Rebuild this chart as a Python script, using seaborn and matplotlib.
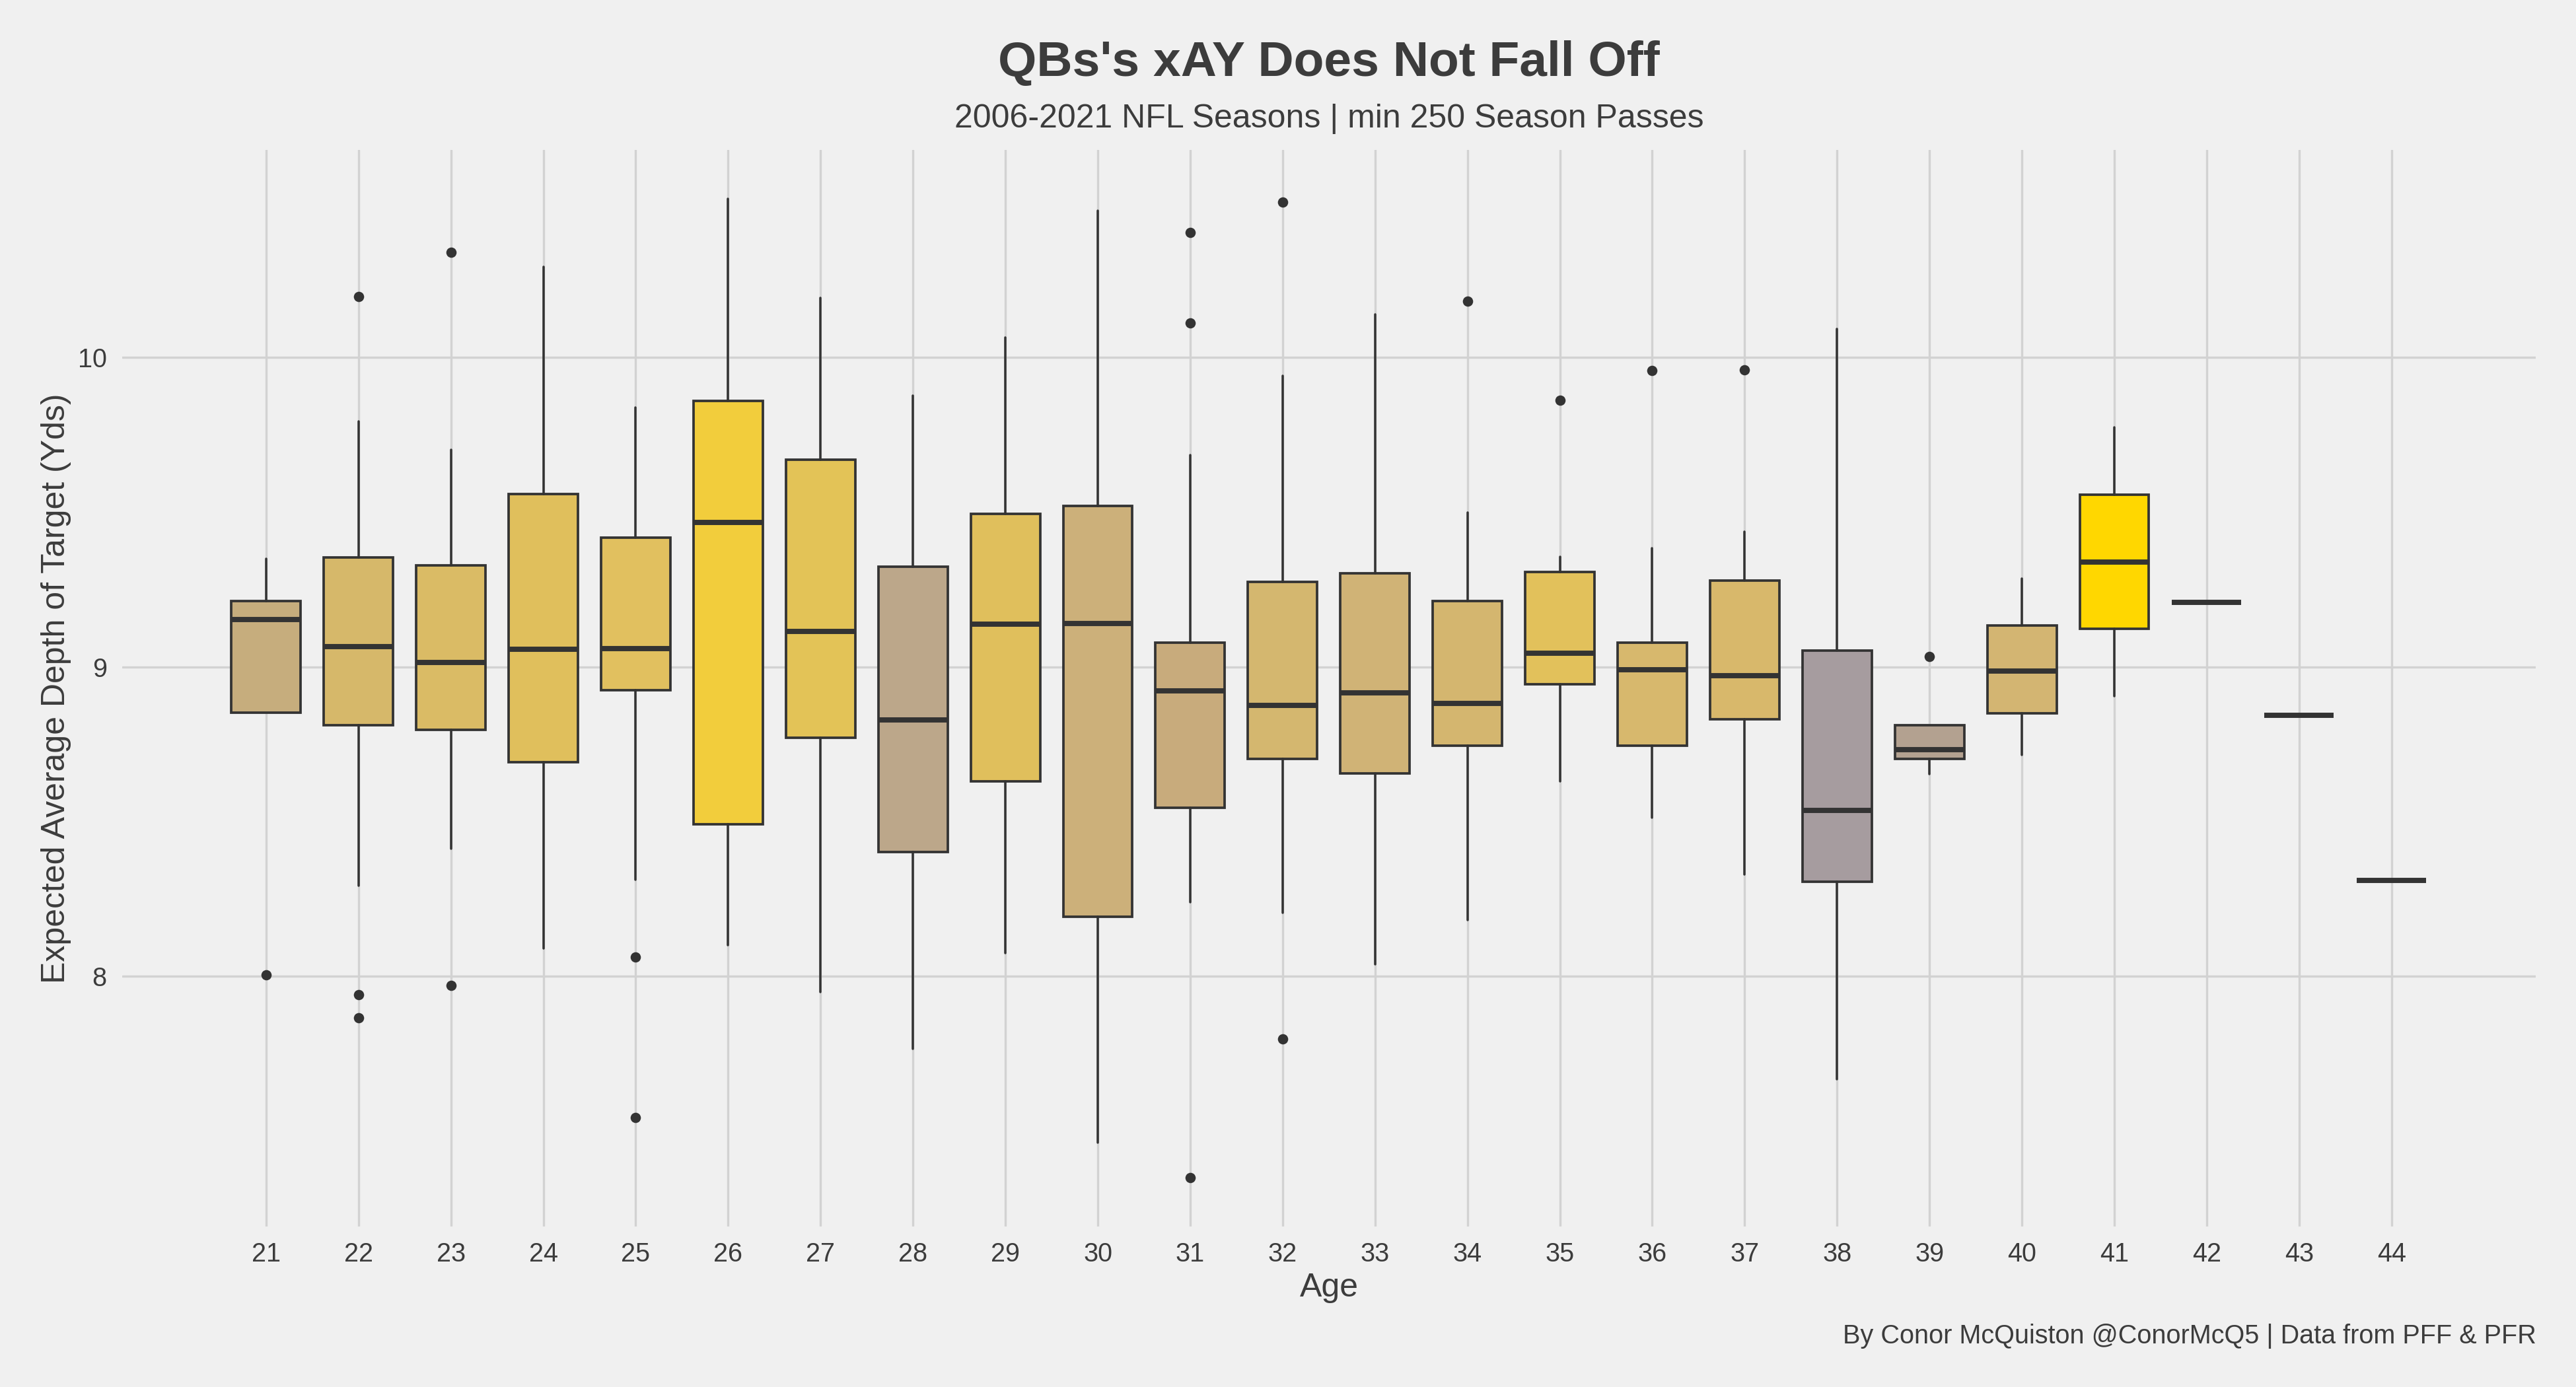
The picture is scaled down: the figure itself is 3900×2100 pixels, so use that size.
import numpy as np
import pandas as pd
import matplotlib
matplotlib.use("Agg")
import matplotlib.pyplot as plt
import seaborn as sns

# ---------------- data ----------------
ages = [21, 22, 23, 24, 25, 26, 27, 28, 29, 30, 31, 32,
        33, 34, 35, 36, 37, 38, 39, 40, 41, 42, 43, 44]

whisker_low = [8.852, 8.294, 8.412, 8.090, 8.313, 8.102, 7.949, 7.766, 8.076, 7.463, 8.241, 8.206,
               8.039, 8.183, 8.630, 8.514, 8.329, 7.669, 8.655, 8.715, 8.905, 9.208, 8.843, 8.310]
q1_vals = [8.852, 8.813, 8.796, 8.692, 8.926, 8.491, 8.771, 8.403, 8.630, 8.194, 8.546, 8.704,
           8.657, 8.745, 8.944, 8.745, 8.831, 8.306, 8.704, 8.850, 9.123, 9.208, 8.843, 8.310]
median_vals = [9.153, 9.067, 9.014, 9.058, 9.060, 9.468, 9.116, 8.829, 9.139, 9.141, 8.924, 8.875,
               8.917, 8.882, 9.044, 8.991, 8.972, 8.537, 8.734, 8.986, 9.340, 9.208, 8.843, 8.310]
q3_vals = [9.213, 9.354, 9.329, 9.558, 9.419, 9.861, 9.671, 9.324, 9.495, 9.521, 9.079, 9.275,
           9.303, 9.213, 9.308, 9.079, 9.280, 9.053, 8.812, 9.134, 9.556, 9.208, 8.843, 8.310]
whisker_high = [9.350, 9.794, 9.701, 10.294, 9.838, 10.514, 10.192, 9.877, 10.065, 10.475, 9.685, 9.942,
                10.139, 9.500, 9.356, 9.384, 9.438, 10.093, 8.812, 9.285, 9.775, 9.208, 8.843, 8.310]

outlier_ages = [21, 22, 22, 22, 23, 23, 25, 25, 31, 31, 31, 32, 32, 34, 35, 36, 37, 39]
outlier_vals = [8.005, 10.197, 7.942, 7.866, 10.340, 7.972, 8.063, 7.544,
                10.405, 10.111, 7.350, 10.502, 7.799, 10.183, 9.863, 9.958, 9.961, 9.035]

fill_colors = ["#C6AD7D", "#D6B86A", "#DABB65", "#E0BF5C", "#E1C05F", "#F2CD3C",
               "#E3C357", "#BCA78A", "#E0BF5C", "#CCB07A", "#C8AB7C", "#D4B76F",
               "#D0B376", "#D4B66F", "#E2C15B", "#D7B86D", "#D8B86B", "#A69C9F",
               "#B3A190", "#D3B572", "#FFD700", "#D4B570", "#D4B570", "#D4B570"]

y_ticks = [8, 9, 10]

title = "QBs's xAY Does Not Fall Off"
subtitle = "2006-2021 NFL Seasons | min 250 Season Passes"
caption = "By Conor McQuiston @ConorMcQ5 | Data from PFF & PFR"
x_label = "Age"
y_label = "Expected Average Depth of Target (Yds)"

# ---------------- style ----------------
BG = "#F0F0F0"
GRID = "#D2D2D2"
TXT = "#3C3C3C"
EDGE = "#333333"

sns.set_theme(style="whitegrid", rc={
    "axes.facecolor": BG, "figure.facecolor": BG,
    "grid.color": GRID, "grid.linewidth": 0.8,
    "axes.edgecolor": BG,
})
plt.rcParams["font.family"] = ["Liberation Sans", "DejaVu Sans"]

W, H = 3900, 2100
fig = plt.figure(figsize=(13, 7), dpi=300)
fig.patch.set_facecolor(BG)

left, right, top, bottom = 185, 3839, 227, 1857
ax = fig.add_axes([left / W, 1 - bottom / H, (right - left) / W, (bottom - top) / H])
ax.set_facecolor(BG)

positions = np.arange(len(ages))
stats = []
for i in range(len(ages)):
    stats.append(dict(med=median_vals[i], q1=q1_vals[i], q3=q3_vals[i],
                      whislo=whisker_low[i], whishi=whisker_high[i], fliers=[]))

bp = ax.bxp(stats, positions=positions, widths=0.75, patch_artist=True,
            showcaps=False, showfliers=False,
            boxprops=dict(edgecolor=EDGE, linewidth=0.9),
            medianprops=dict(color=EDGE, linewidth=1.9, solid_capstyle="butt"),
            whiskerprops=dict(color=EDGE, linewidth=0.85))
for patch, c in zip(bp["boxes"], fill_colors):
    patch.set_facecolor(c)
    patch.set_zorder(2)

out_df = pd.DataFrame({"pos": [ages.index(a) for a in outlier_ages], "val": outlier_vals})
sns.scatterplot(data=out_df, x="pos", y="val", ax=ax, color=EDGE, s=14,
                linewidth=0, zorder=3, legend=False)

ax.set_xlim(-1.557, 24.56)
ax.set_ylim(7.192, 10.671)
ax.set_xticks(positions)
ax.set_xticklabels([str(a) for a in ages])
ax.set_yticks(y_ticks)
ax.set_yticklabels([str(t) for t in y_ticks])
ax.tick_params(axis="both", length=0, labelsize=9.5, labelcolor=TXT)
ax.tick_params(axis="x", pad=5.5)
ax.tick_params(axis="y", pad=5.6)
ax.grid(True, color=GRID, linewidth=0.8)
ax.set_axisbelow(True)
for s in ax.spines.values():
    s.set_visible(False)
ax.set_xlabel("")
ax.set_ylabel("")

fig.text(2012 / W, 1 - 115 / H, title, ha="center", va="baseline",
         fontsize=18, fontweight="bold", color=TXT)
fig.text(2012 / W, 1 - 193 / H, subtitle, ha="center", va="baseline",
         fontsize=12, color=TXT)
fig.text(2012 / W, 1 - 1963 / H, x_label, ha="center", va="baseline",
         fontsize=12, color=TXT)
fig.text(85 / W, 1 - 1042 / H, y_label, ha="center", va="center",
         rotation=90, fontsize=12, color=TXT)
fig.text(3840 / W, 1 - 2034 / H, caption, ha="right", va="baseline",
         fontsize=9.5, color=TXT)

fig.savefig("out.png", dpi=300, facecolor=BG)
